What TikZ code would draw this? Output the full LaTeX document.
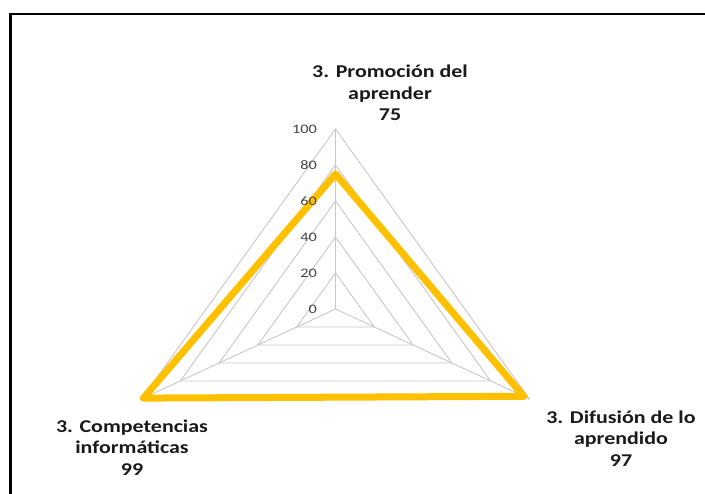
\documentclass[tikz,border=0pt]{standalone}
\usepackage{fontspec}
\setmainfont{Carlito}
\newfontfamily\chartfont[FakeStretch=1.25]{Carlito}
\newfontfamily\catfont[FakeStretch=1.22]{Carlito}
\definecolor{gridgray}{HTML}{C8C8C8}
\definecolor{tickgray}{HTML}{454545}
\definecolor{seriesyellow}{HTML}{FFC000}
\definecolor{labelblack}{HTML}{1A1A1A}
\tikzset{
  gridline/.style={draw=gridgray, line width=0.9pt},
  seriesline/.style={draw=seriesyellow, line width=7pt, line join=round},
  ticklabel/.style={anchor=east, inner sep=0pt, text=tickgray, font=\chartfont\fontsize{13}{15}\selectfont},
  catlabel/.style={align=center, inner sep=0pt, text=labelblack, font=\catfont\bfseries\fontsize{18}{21.5}\selectfont},
  framestroke/.style={draw=black, line width=2.3pt}
}
\begin{document}
\begin{tikzpicture}[x=1pt,y=-1pt]
\useasboundingbox (0,0) rectangle (705,494);
\fill[white] (0,0) rectangle (705,494);
\draw[framestroke] (10.5,494) -- (10.5,14) -- (705,14);
% centre and axis ends
\coordinate (O) at (335.5,309);
\coordinate (Atop) at (335.5,129);
\coordinate (Aright) at (529.5,399);
\coordinate (Aleft) at (141.5,399);
% rings
\foreach \r in {20,40,60,80,100}{
  \draw[gridline] (335.5,{309-1.8*\r}) -- ({335.5+1.94*\r},{309+0.9*\r}) -- ({335.5-1.94*\r},{309+0.9*\r}) -- cycle;
}
% spokes
\draw[gridline] (O) -- (Atop);
\draw[gridline] (O) -- (Aright);
\draw[gridline] (O) -- (Aleft);
% series
\coordinate (Ptop) at (335.5,174);
\coordinate (Pright) at (523.7,396.3);
\coordinate (Pleft) at (143.4,398.1);
\draw[seriesline] (Ptop) -- (Pright) -- (Pleft) -- cycle;
% tick labels
\foreach \r in {0,20,40,60,80,100}{
  \node[ticklabel] (t\r) at (317,{309-1.8*\r}) {\r};
}
% category labels
\node[catlabel] (ltop) at (390,93) {3. Promoción del\\aprender\\75};
\node[catlabel] (lright) at (621,438.5) {3. Difusión de lo\\aprendido\\97};
\node[catlabel] (lleft) at (132,447.5) {3. Competencias\\informáticas\\99};
\end{tikzpicture}
\end{document}
